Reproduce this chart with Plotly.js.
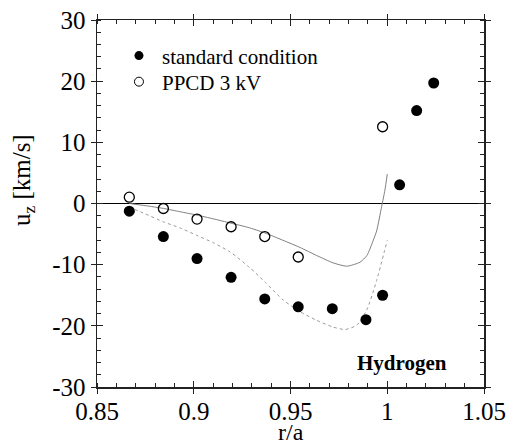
<!DOCTYPE html>
<html>
<head>
<meta charset="utf-8">
<script src="https://cdn.plot.ly/plotly-3.0.1.min.js"></script>
<style>html,body{margin:0;padding:0;background:#fff}#chart{width:511px;height:446px}</style>
</head>
<body>
<div id="chart"></div>
<script>
// Measured points
const stdX = [0.8667, 0.8843, 0.9017, 0.9193, 0.9367, 0.954, 0.9716, 0.989, 0.9976, 1.0064, 1.0152, 1.024];
const stdY = [-1.25, -5.4, -9.0, -12.07, -15.6, -16.9, -17.2, -19.0, -15.0, 3.05, 15.2, 19.7];
const ppcdX = [0.8667, 0.8843, 0.9017, 0.9193, 0.9367, 0.954, 0.9976];
const ppcdY = [1.03, -0.82, -2.55, -3.8, -5.4, -8.75, 12.55];

// Model curves
const solidX = [0.8667, 0.875, 0.8843, 0.893, 0.9017, 0.91, 0.919, 0.928, 0.9367, 0.946, 0.955, 0.9635, 0.972, 0.979, 0.9859, 0.9895, 0.9928, 0.9945, 0.9971, 0.9988, 1.0];
const solidY = [0, -0.35, -0.8, -1.35, -1.9, -2.5, -3.2, -3.9, -4.8, -6.0, -7.2, -8.5, -9.7, -10.25, -9.6, -8.5, -6.0, -4.5, -0.5, 2.2, 4.8];
const dotX = [0.8667, 0.875, 0.8843, 0.893, 0.9015, 0.91, 0.9187, 0.929, 0.9367, 0.9463, 0.955, 0.9635, 0.972, 0.9782, 0.9842, 0.9894, 0.9945, 1.0];
const dotY = [-0.6, -1.7, -3.0, -4.0, -5.2, -6.4, -7.9, -10.5, -12.8, -15.8, -17.7, -19.1, -20.2, -20.6, -19.9, -17.4, -12.6, -6.0];

const legendNames = ['standard condition', 'PPCD 3 kV'];
const xTicks = [0.85, 0.9, 0.95, 1, 1.05];
const xTickText = ['0.85', '0.9', '0.95', '1', '1.05'];
const yTicks = [-30, -20, -10, 0, 10, 20, 30];
const yTickText = ['-30', '-20', '-10', '0', '10', '20', '30'];

const FONT = '"Liberation Serif", serif';
const AX = '#222';

const traces = [
  {x: solidX, y: solidY, mode: 'lines', line: {color: '#808080', width: 1, shape: 'spline', smoothing: 0.6}, showlegend: false, hoverinfo: 'skip'},
  {x: dotX, y: dotY, mode: 'lines', line: {color: '#999', width: 1, dash: 'dot', shape: 'spline', smoothing: 0.6}, showlegend: false, hoverinfo: 'skip'},
  {x: stdX, y: stdY, mode: 'markers', marker: {symbol: 'circle', size: 11, color: '#000'}, showlegend: false},
  {x: ppcdX, y: ppcdY, mode: 'markers', marker: {symbol: 'circle-open', size: 10, color: '#000', line: {width: 1.3, color: '#000'}}, showlegend: false},
  {x: [null], y: [null], mode: 'markers', name: legendNames[0], legend: 'legend', marker: {symbol: 'circle', size: 9, color: '#000'}},
  {x: [null], y: [null], mode: 'markers', name: legendNames[1], legend: 'legend2', marker: {symbol: 'circle-open', size: 9, color: '#000', line: {width: 1, color: '#000'}}},
  {x: [null], y: [null], xaxis: 'x2', yaxis: 'y2', mode: 'markers', showlegend: false, hoverinfo: 'skip'}
];

const legendBase = {xanchor: 'left', yanchor: 'middle', itemwidth: 36, bgcolor: 'rgba(0,0,0,0)', borderwidth: 0, font: {family: FONT, size: 21, color: '#000'}};

const layout = {
  width: 511, height: 446,
  margin: {l: 97, r: 27, t: 20, b: 59},
  paper_bgcolor: '#fff', plot_bgcolor: '#fff',
  font: {family: FONT, size: 25, color: '#000'},
  showlegend: true,
  legend: Object.assign({}, legendBase, {x: 0.049, y: 0.902}),
  legend2: Object.assign({}, legendBase, {x: 0.049, y: 0.831}),
  xaxis: {
    range: [0.85, 1.05], tickmode: 'array', tickvals: xTicks, ticktext: xTickText,
    ticks: 'outside', ticklen: 5, tickwidth: 1, tickcolor: AX, ticklabelstandoff: -4,
    showline: true, linecolor: AX, linewidth: 1.5, mirror: 'allticks',
    showgrid: false, zeroline: false,
    minor: {dtick: 0.01, ticks: 'inside', ticklen: 4, tickcolor: AX, tickwidth: 1, showgrid: false},
    tickfont: {family: FONT, size: 25}
  },
  yaxis: {
    range: [-30, 30], tickmode: 'array', tickvals: yTicks, ticktext: yTickText,
    ticks: 'outside', ticklen: 5, tickwidth: 1, tickcolor: AX,
    showline: true, linecolor: AX, linewidth: 1.5, mirror: 'allticks',
    showgrid: false, zeroline: true, zerolinecolor: '#000', zerolinewidth: 1.5,
    minor: {dtick: 2, ticks: 'inside', ticklen: 4, tickcolor: AX, tickwidth: 1, showgrid: false},
    tickfont: {family: FONT, size: 25}
  },
  xaxis2: {
    overlaying: 'x', anchor: 'y2', range: [0.85, 1.05], tickmode: 'array', tickvals: xTicks,
    ticks: 'inside', ticklen: 6, tickwidth: 1, tickcolor: AX, mirror: 'allticks', showline: false,
    showticklabels: false, showgrid: false, zeroline: false
  },
  yaxis2: {
    overlaying: 'y', anchor: 'x2', range: [-30, 30], tickmode: 'array', tickvals: yTicks,
    ticks: 'inside', ticklen: 6, tickwidth: 1, tickcolor: AX, mirror: 'allticks', showline: false,
    showticklabels: false, showgrid: false, zeroline: false
  },
  annotations: [
    {text: 'u<sub>z</sub> [km/s]', x: -0.19, y: 0.565, xref: 'paper', yref: 'paper', xanchor: 'center', yanchor: 'middle', textangle: -90, showarrow: false, font: {family: FONT, size: 25, color: '#000'}},
    {text: 'r/a', x: 0.5, y: -0.1608, xref: 'paper', yref: 'paper', xanchor: 'center', yanchor: 'bottom', borderpad: 0, showarrow: false, font: {family: FONT, size: 24, color: '#000'}},
    {text: '<b>Hydrogen</b>', x: 1.032, y: -26.0, xref: 'x', yref: 'y', xanchor: 'right', yanchor: 'middle', showarrow: false, font: {family: FONT, size: 21, color: '#000'}}
  ]
};

Plotly.newPlot('chart', traces, layout, {displayModeBar: false, staticPlot: true});
</script>
</body>
</html>
